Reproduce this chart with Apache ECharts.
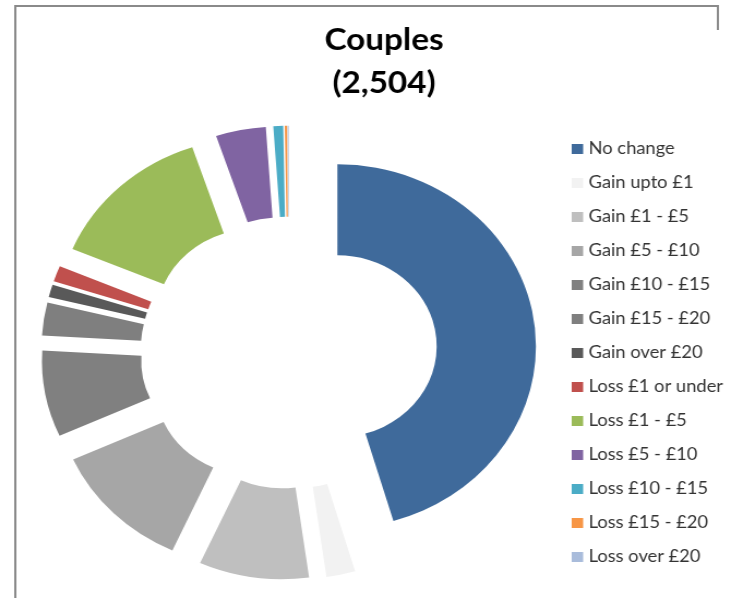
<!DOCTYPE html>
<html>
<head>
<meta charset="utf-8">
<script src="https://cdn.jsdelivr.net/npm/echarts@6/dist/echarts.min.js"></script>
<style>
	body{margin:0;background:#fff;}
	/* 原图被横向拉伸过, 整个图表一起拉伸 */
	#couples_chart{width:670px;height:598px;transform:scaleX(1.0910);transform-origin:0 0;}
</style>
</head>
<body>
<div id="couples_chart"></div>
<script>
// 分类
var categories = ['No change','Gain upto £1','Gain £1 - £5','Gain £5 - £10','Gain £10 - £15','Gain £15 - £20','Gain over £20',
	'Loss £1 or under','Loss £1 - £5','Loss £5 - £10','Loss £10 - £15','Loss £15 - £20','Loss over £20'];
// 各分类人数 (合计 2,504)
var values = [1138, 59, 224, 288, 192, 73, 28, 35, 338, 102, 20, 5, 2];
var title_text = 'Couples\n(2,504)';
// 颜色
var palette = ['#3F6A9B','#F2F2F2','#BFBFBF','#A6A6A6','#808080','#7F7F7F','#595959',
	'#C0504D','#9BBB59','#8064A2','#4BACC6','#F79646','#A9BCDB'];

var couples_chart = {

	init_pie_echarts:function(id){
		var myChart = echarts.init(document.getElementById(id));
		myChart.setOption(couples_chart.init_pie_options());
	},

	init_pie_options:function(){
		var data = [];
		for(var i=0;i<categories.length;i++){
			data.push({name:categories[i], value:values[i], selected:true});
		}
		var option = {
			animation:false,
			color:palette,
			title:{
				text:title_text,
				left:347,
				top:14,
				textAlign:'center',
				textStyle:{
					color:'#000',
					fontFamily:'Lato',
					fontWeight:'bold',
					fontSize:30.5,
					lineHeight:43
				}
			},
			legend:{
				orient:'vertical',
				left:519,
				top:134,
				icon:'rect',
				itemWidth:10.5,
				itemHeight:10,
				itemGap:14,
				selectedMode:false,
				textStyle:{
					color:'#333',
					fontFamily:'Lato',
					fontSize:16.8,
					lineHeight:20
				},
				data:categories
			},
			graphic:[
				{
					type:'polyline',
					silent:true,
					shape:{points:[[14,700],[14,6],[658,6],[658,30]]},
					style:{fill:'none', stroke:'#8A8A8A', lineWidth:2}
				}
			],
			series:[
				{
					name:'Couples',
					type:'pie',
					center:[264.7, 352.7],
					radius:[91, 182],
					startAngle:90,
					clockwise:true,
					selectedMode:'multiple',
					selectedOffset:45,
					label:{show:false},
					labelLine:{show:false},
					emphasis:{disabled:true},
					data:data
				}
			]
		};
		return option;
	}
};

couples_chart.init_pie_echarts('couples_chart');
</script>
</body>
</html>
